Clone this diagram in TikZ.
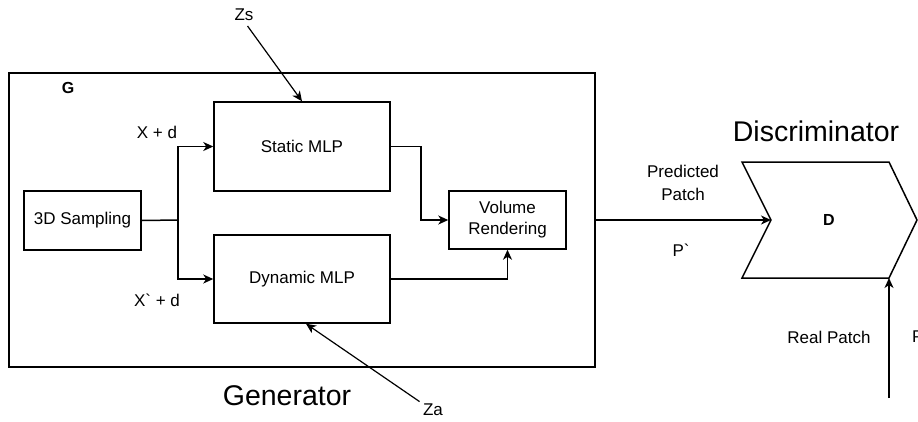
\documentclass[tikz,border=0pt]{standalone}
\usepackage{fontspec}
\setmainfont{Liberation Sans}
\usetikzlibrary{arrows.meta,calc}
\tikzset{
  box/.style={draw, line width=1.5pt, inner sep=0pt, align=center, font=\fontsize{17}{21}\selectfont},
  lbl/.style={inner sep=0pt, align=center, font=\fontsize{17}{23}\selectfont},
  big/.style={inner sep=0pt, font=\fontsize{28.5}{32}\selectfont},
  conn/.style={line width=1.5pt},
  arr/.style={line width=1.5pt, -{Stealth[length=10pt,width=9pt,inset=3pt]}},
}
\begin{document}
\begin{tikzpicture}[x=1pt,y=-1pt]
\useasboundingbox (0,0) rectangle (918,421);
\clip (0,0) rectangle (918,421);
% generator frame
\node[box, minimum width=586pt, minimum height=294pt] (G) at (302,220) {};
\node[lbl, font=\fontsize{16}{19}\selectfont\bfseries] (gl) at (68,88) {G};
% inner boxes
\node[box, minimum width=176pt, minimum height=89pt] (static) at (302,146.5) {Static MLP};
\node[box, minimum width=176pt, minimum height=88pt] (dyn) at (302,279) {Dynamic MLP};
\node[box, minimum width=117pt, minimum height=59pt] (samp) at (82.5,220.5) {3D Sampling};
\node[box, minimum width=117pt, minimum height=58pt] (vr) at (507.5,220) {Volume\\Rendering};
\coordinate (j) at (178,220);
% connectors inside G
\draw[conn] (samp.east) -- (j);
\draw[arr] (j) |- (static.west);
\draw[arr] (j) |- (dyn.west);
\draw[arr] (static.east) -- ++(30,0) |- (vr.west);
\draw[arr] (dyn.east) -| (vr.south);
\node[lbl] (xd) at (157,132) {X + d};
\node[lbl] (xpd) at (157,300) {X\textasciigrave{} + d};
% noise inputs
\node[lbl] (zs) at (244,15) {Zs};
\draw[arr, line width=1.2pt, shorten <=6pt] (zs.south) -- (static.north);
\node[lbl] (za) at (433,410) {Za};
\draw[arr, line width=1.2pt, shorten <=4pt] (za.north west) -- ([xshift=4pt]dyn.south);
\node[big] (gen) at (287,396) {Generator};
% discriminator
\coordinate (d1) at (742,162);
\coordinate (d2) at (889,162);
\coordinate (d3) at (917,220);
\coordinate (d4) at (889,278);
\coordinate (d5) at (742,278);
\coordinate (notch) at (771,220);
\draw[line width=1.5pt, line join=miter] (d1) -- (d2) -- (d3) -- (d4) -- (d5) -- (notch) -- cycle;
\node[lbl, font=\fontsize{16}{19}\selectfont\bfseries] (dl) at (829,220) {D};
\node[big] (disc) at (816,131) {Discriminator};
\draw[arr] (G.east) -- (notch);
\node[lbl] (pp) at (683,183) {Predicted\\Patch};
\node[lbl] (pq) at (681,250) {P\textasciigrave};
\coordinate (rs) at (889,398);
\draw[arr] (rs) -- (d4);
\node[lbl] (rp) at (829,337) {Real Patch};
\node[lbl, anchor=west] (rq) at (912,337) {P};
\end{tikzpicture}
\end{document}
